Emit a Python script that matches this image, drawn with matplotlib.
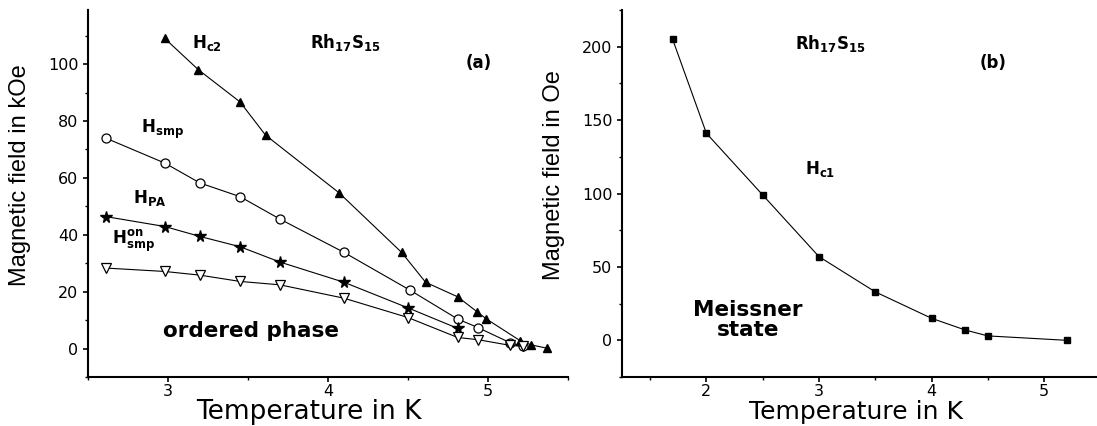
import matplotlib
matplotlib.use("Agg")
import matplotlib.pyplot as plt
from matplotlib.ticker import MultipleLocator

plt.rcParams['font.family'] = ['DejaVu Sans']
plt.rcParams['mathtext.fontset'] = 'dejavusans'

# panel (a): fields in kOe vs temperature in K
t_hc2 = [2.98, 3.19, 3.45, 3.61, 4.07, 4.46, 4.61, 4.81, 4.93, 4.99, 5.20, 5.27, 5.37]
h_hc2 = [109, 98, 86.7, 75, 54.7, 33.8, 23.3, 18.2, 13, 10.4, 2.8, 1.3, 0.1]

t_smp = [2.61, 2.98, 3.20, 3.45, 3.70, 4.10, 4.51, 4.81, 4.94, 5.14, 5.22]
h_smp = [74, 65.2, 58.2, 53.4, 45.5, 33.8, 20.6, 10.4, 7.3, 2.0, 0.8]

t_pa = [2.61, 2.98, 3.20, 3.45, 3.70, 4.10, 4.50, 4.81]
h_pa = [46.4, 42.9, 39.4, 35.8, 30.4, 23.3, 14.3, 7.1]

t_on = [2.61, 2.98, 3.20, 3.45, 3.70, 4.10, 4.50, 4.81, 4.94, 5.14, 5.22]
h_on = [28.3, 27.1, 25.8, 23.6, 22.4, 17.7, 10.9, 3.9, 3.1, 1.1, 0.8]

# panel (b): Hc1 in Oe
t_hc1 = [1.7, 2.0, 2.5, 3.0, 3.5, 4.0, 4.3, 4.5, 5.2]
h_hc1 = [205, 141, 99, 57, 33, 15, 7, 3, 0]

fig = plt.figure(figsize=(10.97, 4.26), dpi=100)
ax1 = fig.add_axes([0.0802, 0.115, 0.4376, 0.8615])
ax2 = fig.add_axes([0.567, 0.115, 0.433, 0.8615])

lw = 0.8
ax1.plot(t_hc2, h_hc2, '-', color='black', lw=lw, marker='^', ms=6, mfc='black', mec='black')
ax1.plot(t_smp, h_smp, '-', color='black', lw=lw, marker='o', ms=6.5, mfc='white', mec='black', mew=0.9)
ax1.plot(t_pa, h_pa, '-', color='black', lw=lw, marker='*', ms=8.5, mfc='black', mec='black')
ax1.plot(t_on, h_on, '-', color='black', lw=lw, marker='v', ms=7, mfc='white', mec='black', mew=0.9)

ax2.plot(t_hc1, h_hc1, '-', color='black', lw=lw, marker='s', ms=4, mfc='black', mec='black')

for ax in (ax1, ax2):
    for s in ('top', 'right'):
        ax.spines[s].set_visible(False)
    for s in ('left', 'bottom'):
        ax.spines[s].set_linewidth(1.5)
    ax.tick_params(which='major', direction='out', length=3.5, width=1.2, labelsize=11.5)
    ax.tick_params(which='minor', direction='out', length=2.2, width=1.0)
    ax.tick_params(axis='x', which='major', pad=1.5)
    ax.xaxis.set_minor_locator(MultipleLocator(0.5))

ax1.set_xlim(2.5, 5.5)
ax1.set_ylim(-10, 119)
ax1.set_xticks([3, 4, 5])
ax1.set_yticks([0, 20, 40, 60, 80, 100])
ax1.yaxis.set_minor_locator(MultipleLocator(10))

ax2.set_xlim(1.25, 5.47)
ax2.set_ylim(-25, 225)
ax2.set_xticks([2, 3, 4, 5])
ax2.set_yticks([0, 50, 100, 150, 200])
ax2.yaxis.set_minor_locator(MultipleLocator(25))

ylab_font = ['Liberation Sans', 'DejaVu Sans']
fig.text(0.018, 0.59, 'Magnetic field in kOe', rotation=90, ha='center', va='center',
         fontsize=17, family=ylab_font)
fig.text(0.505, 0.59, 'Magnetic field in Oe', rotation=90, ha='center', va='center',
         fontsize=17, family=ylab_font)
fig.text(0.282, 0.017, 'Temperature in K', ha='center', va='baseline', fontsize=19)
fig.text(0.780, 0.017, 'Temperature in K', ha='center', va='baseline', fontsize=18)

bold = dict(fontsize=12, fontweight='bold', va='center', ha='left')
ax1.text(3.15, 107.5, r'$\mathbf{H_{c2}}$', **bold)
ax1.text(3.89, 107.5, r'$\mathbf{Rh_{17}S_{15}}$', **bold)
ax1.text(4.86, 100.5, '(a)', **bold)
ax1.text(2.83, 77, r'$\mathbf{H_{smp}}$', **bold)
ax1.text(2.78, 53, r'$\mathbf{H_{PA}}$', **bold)
ax1.text(2.65, 38, r'$\mathbf{H^{on}_{smp}}$', **bold)
ax1.text(2.97, 6, 'ordered phase', fontsize=15.5, fontweight='bold', va='center', ha='left')

ax2.text(2.79, 202, r'$\mathbf{Rh_{17}S_{15}}$', **bold)
ax2.text(4.43, 189, '(b)', **bold)
ax2.text(2.88, 117, r'$\mathbf{H_{c1}}$', **bold)
ax2.text(2.37, 14, 'Meissner\nstate', fontsize=15.5, fontweight='bold', va='center', ha='center',
         linespacing=1.0)

plt.savefig("out.png", dpi=100)
